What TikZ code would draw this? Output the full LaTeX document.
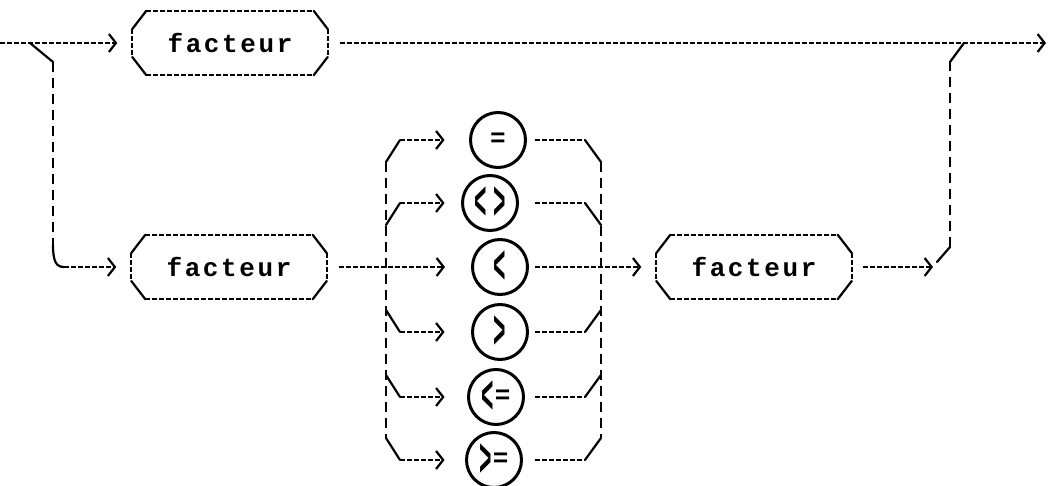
\documentclass[tikz,border=0pt]{standalone}
\usepackage{fontspec}
\usepackage{graphicx}
\usetikzlibrary{arrows.meta,calc}
\newfontfamily\railfont[LetterSpace=10]{Liberation Mono}
\newfontfamily\symfont{Liberation Mono}
\newcommand\chv[1]{\raisebox{-9.5pt}{\scalebox{0.8}[2.1]{#1}}}
\newcommand\railbox[1]{%
  \draw[hline] ($(#1.north west)+(14,0)$) -- ($(#1.north east)+(-14,0)$);
  \draw[hline] ($(#1.south west)+(14,0)$) -- ($(#1.south east)+(-14,0)$);
  \draw[hline] ($(#1.west)+(0,-14)$) -- ($(#1.west)+(0,14)$);
  \draw[hline] ($(#1.east)+(0,-14)$) -- ($(#1.east)+(0,14)$);
  \draw[solidl] ($(#1.north west)+(14,0)$) -- ($(#1.west)+(0,-14)$);
  \draw[solidl] ($(#1.south west)+(14,0)$) -- ($(#1.west)+(0,14)$);
  \draw[solidl] ($(#1.north east)+(-14,0)$) -- ($(#1.east)+(0,-14)$);
  \draw[solidl] ($(#1.south east)+(-14,0)$) -- ($(#1.east)+(0,14)$);
}
\tikzset{
  hline/.style={line width=1.8pt, dash pattern=on 5pt off 2pt},
  vline/.style={line width=2pt, dash pattern=on 10pt off 6pt},
  solidl/.style={line width=2.2pt, line cap=round},
  facbox/.style={minimum width=195pt, minimum height=64pt, inner sep=0pt,
    font=\railfont\bfseries\fontsize{26}{26}\selectfont},
  opcirc/.style={circle, draw, line width=3pt, minimum size=55pt, inner sep=0pt,
    font=\symfont\bfseries\fontsize{26}{26}\selectfont},
  >={Straight Barb[length=7pt,width=18pt,line width=2.2pt]}
}
\begin{document}
\begin{tikzpicture}[x=1pt,y=-1pt]
\useasboundingbox (0,0) rectangle (1049,486);
% main line
\coordinate (in) at (0,43);
\coordinate (split) at (30,43);
\coordinate (s1) at (53,62);
\coordinate (s2) at (53,245);
\coordinate (s3) at (64,267);
\coordinate (out) at (1046,43);
\coordinate (m1) at (964,43);
\coordinate (m2) at (950,62);
\coordinate (m3) at (950,247);
\coordinate (m4) at (937,262);
\coordinate (m5) at (933,267);

\node[facbox] (f1) at (230,43) {facteur};
\node[facbox] (f2) at (229,267) {facteur};
\node[facbox] (f3) at (754,267) {facteur};
\railbox{f1}\railbox{f2}\railbox{f3}

% operator circles
\node[opcirc] (c1) at (498,140) {=};
\node[opcirc] (c2) at (490,203) {\chv{<}\hspace{6pt}\chv{>}};
\node[opcirc] (c3) at (500,267) {\chv{<}};
\node[opcirc] (c4) at (500,332) {\chv{>}};
\node[opcirc] (c5) at (496,397) {\chv{<}\hspace{1pt}=};
\node[opcirc] (c6) at (494,460) {\chv{>}\hspace{1pt}=};

% upper path
\draw[hline,->,shorten >=15pt] (in) -- (f1.west);
\draw[hline,->,shorten <=12pt] (f1.east) -- (out);

% lower path
\draw[solidl] (split) -- (s1);
\draw[vline] (s1) -- (s2);
\draw[solidl] (s2) .. controls (53,261) and (56,267) .. (s3);
\draw[hline,->,shorten >=15pt] (s3) -- (f2.west);
\draw[hline,->,shorten <=12pt,shorten >=26pt] (f2.east) -- (c3.west);
\draw[hline,->,shorten <=6pt,shorten >=15pt] (c3.east) -- (f3.west);
\draw[hline,->,shorten <=11pt] (f3.east) -- (m5);
\draw[solidl] (m4) -- (m3);
\draw[vline] (m3) -- (m2);
\draw[solidl] (m2) -- (m1);

% left column
\coordinate (lt) at (386,162);
\coordinate (lb) at (386,438);
\draw[vline] (lt) -- (lb);
\coordinate (a1) at (400,140);
\coordinate (a2) at (400,203);
\coordinate (a4) at (400,332);
\coordinate (a5) at (400,397);
\coordinate (a6) at (400,460);
\draw[solidl] (lt) -- (a1);
\draw[solidl] (386,225) -- (a2);
\draw[solidl] (386,310) -- (a4);
\draw[solidl] (386,375) -- (a5);
\draw[solidl] (lb) -- (a6);
\draw[hline,->,shorten >=24.5pt] (a1) -- (c1.west);
\draw[hline,->,shorten >=16.5pt] (a2) -- (c2.west);
\draw[hline,->,shorten >=26.5pt] (a4) -- (c4.west);
\draw[hline,->,shorten >=22.5pt] (a5) -- (c5.west);
\draw[hline,->,shorten >=20.5pt] (a6) -- (c6.west);

% right column
\coordinate (rt) at (601,162);
\coordinate (rb) at (601,438);
\draw[vline] (rt) -- (rb);
\coordinate (b1) at (585,140);
\coordinate (b2) at (585,203);
\coordinate (b4) at (585,332);
\coordinate (b5) at (585,397);
\coordinate (b6) at (585,460);
\draw[hline,shorten <=7.5pt] (c1.east) -- (b1);
\draw[hline,shorten <=15.5pt] (c2.east) -- (b2);
\draw[hline,shorten <=5.5pt] (c4.east) -- (b4);
\draw[hline,shorten <=9.5pt] (c5.east) -- (b5);
\draw[hline,shorten <=11.5pt] (c6.east) -- (b6);
\draw[solidl] (b1) -- (rt);
\draw[solidl] (b2) -- (601,225);
\draw[solidl] (b4) -- (601,310);
\draw[solidl] (b5) -- (601,375);
\draw[solidl] (b6) -- (rb);
\end{tikzpicture}
\end{document}
